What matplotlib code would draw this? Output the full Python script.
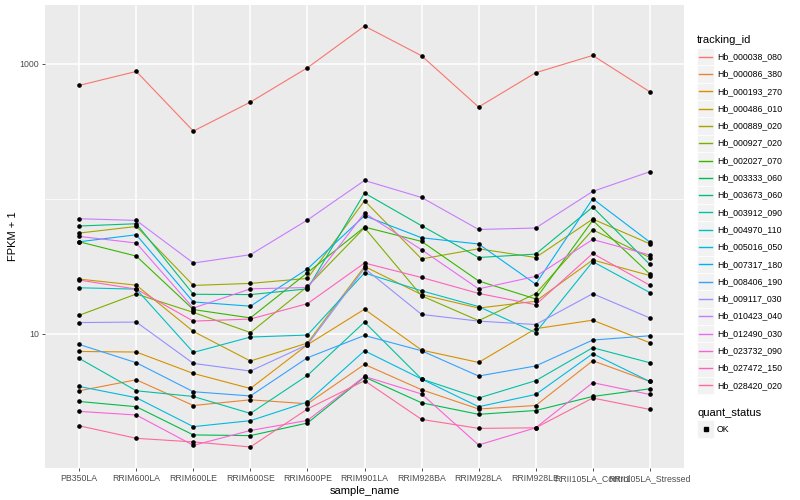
import numpy as np
import matplotlib
matplotlib.use("Agg")
from matplotlib import pyplot as plt
from matplotlib.patches import Rectangle
from matplotlib.lines import Line2D
from matplotlib.ticker import FixedLocator, NullFormatter

plt.rcParams['font.family'] = ['Liberation Sans', 'DejaVu Sans']

# x categories
samples = ['PB350LA', 'RRIM600LA', 'RRIM600LE', 'RRIM600SE', 'RRIM600PE', 'RRIM901LA',
           'RRIM928BA', 'RRIM928LA', 'RRIM928LE', 'RRII105LA_Control', 'RRII105LA_Stressed']

tracking_ids = ['Hb_000038_080', 'Hb_000086_380', 'Hb_000193_270', 'Hb_000486_010',
                'Hb_000889_020', 'Hb_000927_020', 'Hb_002027_070', 'Hb_003333_060',
                'Hb_003673_060', 'Hb_003912_090', 'Hb_004970_110', 'Hb_005016_050',
                'Hb_007317_180', 'Hb_008406_190', 'Hb_009117_030', 'Hb_010423_040',
                'Hb_012490_030', 'Hb_023732_090', 'Hb_027472_150', 'Hb_028420_020']

# FPKM + 1 per sample
hb_000038_080 = [691, 877, 317, 520, 934, 1902, 1146, 478, 858, 1152, 620]
hb_000086_380 = [3.78, 4.56, 2.94, 3.24, 3.03, 5.93, 3.85, 2.77, 2.94, 6.31, 4.43]
hb_000193_270 = [7.39, 7.32, 5.08, 3.93, 8.29, 15.2, 7.57, 6.13, 10.9, 12.6, 8.58]
hb_000486_010 = [25.4, 22.9, 10.4, 6.28, 8.53, 31.5, 19.5, 15.5, 17.4, 35.2, 27.0]
hb_000889_020 = [55.7, 62.3, 22.8, 23.6, 25.7, 96.6, 35.8, 42.6, 36.7, 70.7, 46.4]
hb_000927_020 = [13.7, 19.7, 14.4, 10.2, 22.4, 61.0, 19.1, 12.5, 19.8, 58.9, 36.7]
hb_002027_070 = [48.0, 37.6, 15.1, 13.1, 28.3, 61.7, 48.3, 24.6, 18.1, 69.1, 27.7]
hb_003333_060 = [3.15, 2.88, 1.78, 1.76, 2.18, 4.78, 3.08, 2.53, 2.70, 3.43, 3.91]
hb_003673_060 = [62.8, 65.3, 19.6, 19.5, 21.5, 110.2, 63.1, 36.7, 38.9, 86.8, 32.6]
hb_003912_090 = [6.56, 3.78, 3.43, 2.57, 4.91, 12.2, 4.62, 3.34, 4.49, 7.88, 6.10]
hb_004970_110 = [21.9, 21.4, 7.27, 9.45, 9.78, 28.2, 20.8, 15.9, 10.2, 34.2, 20.2]
hb_005016_050 = [4.07, 3.36, 2.05, 2.27, 3.12, 7.48, 4.62, 2.88, 3.55, 7.11, 4.43]
hb_007317_180 = [48.0, 54.1, 17.2, 16.0, 30.2, 74.8, 51.4, 46.2, 23.3, 100.0, 47.8]
hb_008406_190 = [8.33, 6.10, 3.72, 3.46, 6.64, 9.71, 7.48, 4.86, 5.77, 8.98, 9.66]
hb_009117_030 = [12.1, 12.2, 6.03, 5.29, 8.29, 30.5, 13.9, 12.4, 11.7, 19.8, 13.1]
hb_010423_040 = [71.1, 69.1, 33.4, 38.5, 69.6, 136.6, 102.2, 59.2, 60.7, 113.3, 158.5]
hb_012490_030 = [52.6, 47.0, 15.5, 21.5, 22.0, 78.4, 41.9, 21.5, 26.6, 49.9, 38.3]
hb_023732_090 = [2.66, 2.50, 1.49, 1.92, 2.28, 4.83, 3.58, 1.50, 2.01, 4.34, 3.55]
hb_027472_150 = [25.0, 21.4, 12.4, 12.85, 16.7, 33.4, 26.1, 19.9, 16.4, 39.3, 22.9]
hb_028420_020 = [2.08, 1.68, 1.58, 1.45, 2.77, 4.49, 2.32, 1.99, 2.01, 3.34, 2.75]

series = [hb_000038_080, hb_000086_380, hb_000193_270, hb_000486_010, hb_000889_020,
          hb_000927_020, hb_002027_070, hb_003333_060, hb_003673_060, hb_003912_090,
          hb_004970_110, hb_005016_050, hb_007317_180, hb_008406_190, hb_009117_030,
          hb_010423_040, hb_012490_030, hb_023732_090, hb_027472_150, hb_028420_020]


def hcl_hex(h, c=100.0, l=65.0):
    # same as R's hcl(), used by ggplot's default hue palette
    hr = np.deg2rad(h)
    u, v = c * np.cos(hr), c * np.sin(hr)
    xn, yn, zn = 95.047, 100.0, 108.883
    y = yn * ((l + 16) / 116) ** 3
    un = 4 * xn / (xn + 15 * yn + 3 * zn)
    vn = 9 * yn / (xn + 15 * yn + 3 * zn)
    up = u / (13 * l) + un
    vp = v / (13 * l) + vn
    x = 9 * y * up / (4 * vp)
    z = -x / 3 - 5 * y + 3 * y / vp
    m = np.array([[3.240479, -1.537150, -0.498535],
                  [-0.969256, 1.875992, 0.041556],
                  [0.055648, -0.204043, 1.057311]])
    rgb = m @ (np.array([x, y, z]) / 100)
    rgb = np.where(rgb <= 0.0031308, 12.92 * rgb, 1.055 * np.abs(rgb) ** (1 / 2.4) - 0.055)
    return tuple(np.clip(rgb, 0, 1))


n = len(tracking_ids)
hues = np.linspace(15, 375, n + 1)[:n]
colors = [hcl_hex(h) for h in hues]

W, H = 800, 500
fig = plt.figure(figsize=(W / 100, H / 100), dpi=100)
ax = fig.add_axes([45 / W, 32 / H, 639 / W, 463 / H])
ax.set_facecolor('#EBEBEB')

xs = np.arange(len(samples))
for vals, col in zip(series, colors):
    ax.plot(xs, vals, color=col, lw=0.8, zorder=3)
for vals in series:
    ax.plot(xs, vals, ls='none', marker='o', ms=2.3, color='black', zorder=4)

ax.set_yscale('log')
allv = np.log10(np.concatenate([np.array(s, float) for s in series]))
lo, hi = allv.min(), allv.max()
pad = (hi - lo) * 0.05
ax.set_ylim(10 ** (lo - pad), 10 ** (hi + pad))
ax.set_xlim(-0.6, len(samples) - 0.4)

ax.yaxis.set_major_locator(FixedLocator([10, 1000]))
ax.set_yticklabels(['10', '1000'])
ax.yaxis.set_minor_locator(FixedLocator([100]))
ax.yaxis.set_minor_formatter(NullFormatter())
ax.set_xticks(xs)
ax.set_xticklabels(samples)

ax.grid(which='major', color='white', lw=1.1, zorder=0)
ax.grid(which='minor', axis='y', color='white', lw=0.55, zorder=0)
ax.set_axisbelow(True)
for s in ax.spines.values():
    s.set_visible(False)
ax.tick_params(which='major', length=2.5, width=0.6, color='#333333',
               labelsize=6.3, labelcolor='#4D4D4D', pad=2)
ax.tick_params(which='minor', length=0)

ax.set_xlabel('sample_name', fontsize=8, labelpad=2)
ax.set_ylabel('FPKM + 1', fontsize=8, labelpad=1)


def fx(px):
    return px / W


def fy(py):
    return 1 - py / H


# legend: tracking_id
fig.text(fx(697), fy(40), 'tracking_id', fontsize=8, va='center', ha='left')
key = 17.3
y0 = 56.7
for i, (name, col) in enumerate(zip(tracking_ids, colors)):
    yc = y0 + i * key
    fig.add_artist(Rectangle((fx(697), fy(yc + key / 2)), key / W, key / H,
                             transform=fig.transFigure, facecolor='#F2F2F2',
                             edgecolor='white', lw=0.5, zorder=1))
    fig.add_artist(Line2D([fx(699), fx(712)], [fy(yc), fy(yc)], color=col, lw=1.0,
                          transform=fig.transFigure, zorder=5))
    fig.text(fx(717), fy(yc), name, fontsize=6.3, va='center', ha='left')

# legend: quant_status
fig.text(fx(697), fy(412.5), 'quant_status', fontsize=8, va='center', ha='left')
fig.add_artist(Rectangle((fx(697), fy(429 + key / 2)), key / W, key / H,
                         transform=fig.transFigure, facecolor='#F2F2F2',
                         edgecolor='white', lw=0.5, zorder=1))
fig.add_artist(Line2D([fx(705.5)], [fy(429)], ls='none', marker='s', ms=2.3,
                      color='black', transform=fig.transFigure, zorder=5))
fig.text(fx(717), fy(429), 'OK', fontsize=6.3, va='center', ha='left')

fig.savefig('out.png', dpi=100)
